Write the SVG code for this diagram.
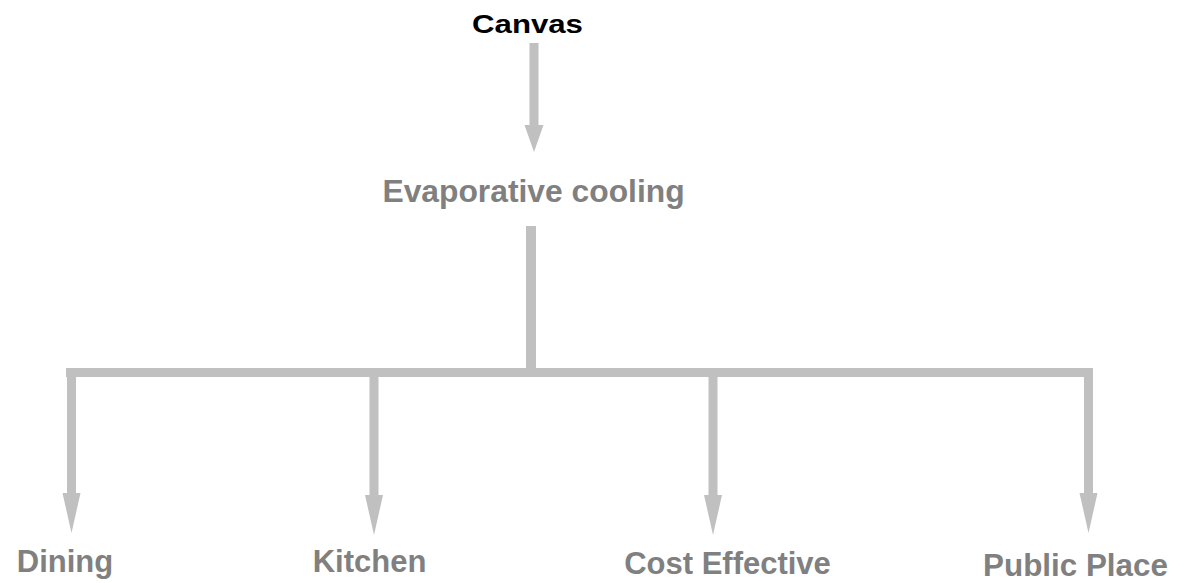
<svg xmlns="http://www.w3.org/2000/svg" width="1185" height="583" viewBox="0 0 1185 583">
  <style>
    .conn { fill: #c0c0c0; stroke: none; }
    .lbl { font-family: "Liberation Sans", Arial, sans-serif; font-weight: bold; font-size: 31px; fill: #808080; text-anchor: middle; }
    .root { fill: #000000; font-size: 26px; }
  </style>
  <defs>
    <polygon id="headS" points="-9.5,0 9.5,0 0,27"/>
    <polygon id="headL" points="-9,0 9,0 0,40"/>
  </defs>
  <rect width="1185" height="583" fill="#ffffff"/>
  <g id="connectors" class="conn">
    <rect x="529.5" y="43" width="9" height="83"/>
    <use href="#headS" x="534" y="125"/>
    <rect x="526" y="226" width="10" height="151"/>
    <rect x="66" y="368" width="1027" height="9"/>
    <rect x="67" y="372" width="9" height="122"/>
    <use href="#headL" x="71.5" y="493"/>
    <rect x="369.5" y="372" width="9" height="124"/>
    <use href="#headL" x="374" y="495"/>
    <rect x="708.5" y="372" width="9" height="124"/>
    <use href="#headL" x="713" y="495"/>
    <rect x="1084" y="372" width="9" height="122"/>
    <use href="#headL" x="1088.5" y="493"/>
  </g>
  <g id="node-canvas"><text class="lbl root" transform="translate(527.5,33) scale(1.2,1)" x="0" y="0">Canvas</text></g>
  <g id="node-evaporative"><text class="lbl" x="533.5" y="202" style="font-size:31.8px">Evaporative cooling</text></g>
  <g id="node-dining"><text class="lbl" x="65" y="572">Dining</text></g>
  <g id="node-kitchen"><text class="lbl" x="369.5" y="572">Kitchen</text></g>
  <g id="node-cost"><text class="lbl" x="727.5" y="574">Cost Effective</text></g>
  <g id="node-public"><text class="lbl" x="1075.5" y="576" style="font-size:31.4px">Public Place</text></g>
</svg>
